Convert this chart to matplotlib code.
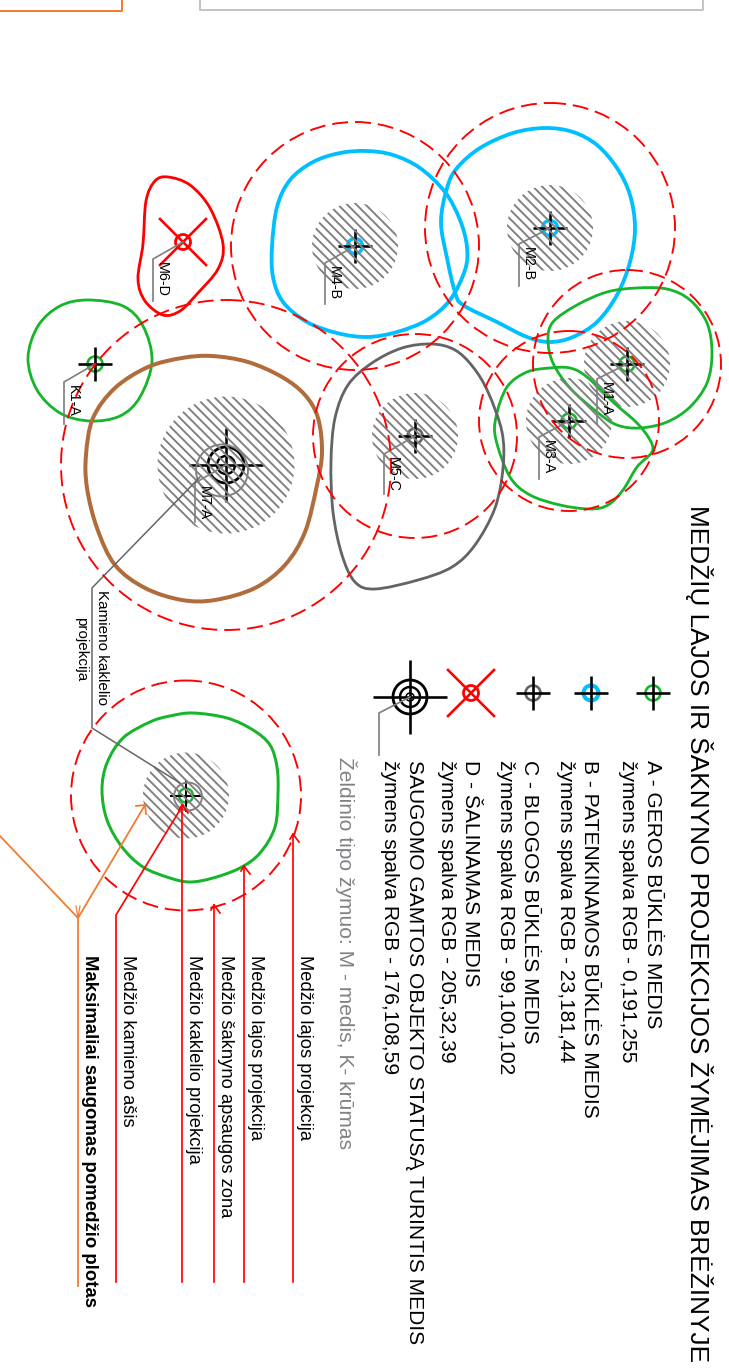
import numpy as np
import matplotlib
matplotlib.use("Agg")
import matplotlib.pyplot as plt
from matplotlib.path import Path
from matplotlib.patches import PathPatch, Circle
from matplotlib.collections import LineCollection

plt.rcParams['font.family'] = ['Liberation Sans', 'DejaVu Sans']
plt.rcParams['lines.scale_dashes'] = False

# ---- crown outlines ----
crown_M6 = [(168,177),(190,185),(210,208),(223,244),(218,269),(197,294),(180,311),(163,315),(145,301),(138,279),(143,244),(146,201),(155,181)]
crown_K1 = [(88,300),(123,306),(143,326),(152,361),(140,397),(120,416),(90,421),(60,413),(37,390),(28,358),(38,326),(60,306)]
crown_M7 = [(212,356),(248,362),(282,377),(305,395),(318,418),(322,452),(317,485),(305,532),(285,565),(255,588),(215,600),(182,600),(145,588),(115,565),(97,528),(87,488),(86,455),(93,418),(115,388),(148,367),(182,358)]
crown_M4 = [(367,151),(340,153),(313,162),(290,180),(277,207),(272,247),(273,277),(283,302),(307,322),(337,333),(367,337),(397,332),(427,320),(450,300),(465,270),(467,247),(460,220),(445,192),(420,168),(393,155)]
crown_M2 = [(545,128),(573,132),(597,145),(617,168),(630,195),(635,228),(630,262),(617,295),(597,322),(573,337),(550,342),(527,337),(497,322),(463,305),(455,292),(447,258),(441,222),(447,188),(457,168),(480,148),(513,133)]
crown_M1 = [(637,288),(667,289),(690,300),(707,323),(712,353),(707,383),(690,407),(667,422),(640,428),(617,425),(597,412),(570,388),(553,363),(548,340),(553,322),(577,305),(607,292)]
crown_M3 = [(550,368),(570,368),(587,377),(613,402),(637,423),(650,440),(652,452),(637,467),(623,490),(608,505),(590,509),(560,505),(530,495),(510,477),(496,440),(496,417),(507,387),(527,372)]
crown_M5 = [(432,344),(455,350),(473,367),(488,392),(502,432),(503,468),(495,508),(475,545),(452,567),(418,580),(375,589),(355,582),(342,555),(333,512),(331,462),(335,418),(348,385),(372,363),(402,348)]
crown_key = [(193,713),(227,718),(253,730),(270,745),(277,767),(278,793),(275,827),(260,853),(240,868),(213,878),(190,882),(170,878),(143,867),(122,847),(107,820),(102,790),(107,763),(123,738),(150,722),(170,716)]

# ---- trees ----
tree_names   = ['K1-A','M1-A','M2-B','M3-A','M4-B','M5-C','M6-D','M7-A']
tree_x       = [95, 627, 550, 569, 355, 415, 183, 226]
tree_y       = [364, 364, 228, 421, 246, 436, 242, 465]
zone_radius  = [0, 94, 125, 90, 124, 102, 0, 165]
stem_radius  = [0, 43, 43, 43, 43, 43, 0, 68.5]
leader_x     = [64, 597, 519, 539, 325, 384, 153, 195]
leader_y     = [382, 379, 244, 437, 263, 454, 259, 483]
leader_end   = [424, 424, 286, 479, 304, 494, 301, 522]

# ---- legend ----
legend_lines = ['A - GEROS BŪKLĖS MEDIS','žymens spalva RGB - 0,191,255','B - PATENKINAMOS BŪKLĖS MEDIS','žymens spalva RGB - 23,181,44',
                'C - BLOGOS BŪKLĖS MEDIS','žymens spalva RGB - 99,100,102','D - ŠALINAMAS MEDIS','žymens spalva RGB - 205,32,39',
                'SAUGOMO GAMTOS OBJEKTO STATUSĄ TURINTIS MEDIS','žymens spalva RGB - 176,108,59']
legend_line_x = [653, 628, 590, 566, 530, 506, 471, 447, 415, 390]
callouts = ['Medžio lajos projekcija','Medžio lajos projekcija','Medžio šaknyno apsaugos zona','Medžio kaklelio projekcija','Medžio kamieno ašis']
callout_text_x = [305, 256, 226, 194, 128]
callout_line_x = [293, 244, 214, 182, 116]
callout_tip_y  = [834, 866, 905, 805, 915]

GREEN, BLUE, GREY, BROWN, RED, ORANGE = '#17B52C', '#00BFFF', '#636466', '#B06C3B', '#FF0000', '#F47B30'
HATCH = '#808080'
px = 0.72  # points per pixel at dpi 100

fig = plt.figure(figsize=(7.29, 13.69), dpi=100)
ax = fig.add_axes([0, 0, 1, 1])
ax.set_xlim(0, 729); ax.set_ylim(1369, 0); ax.axis('off')


def smooth(points, color, w):
    p = np.array(points, float); n = len(p)
    verts = [p[0]]; codes = [Path.MOVETO]
    for i in range(n):
        p0, p1, p2, p3 = p[i-1], p[i], p[(i+1) % n], p[(i+2) % n]
        verts += [p1 + (p2-p0)/6, p2 - (p3-p1)/6, p2]
        codes += [Path.CURVE4]*3
    ax.add_patch(PathPatch(Path(verts, codes), fc='none', ec=color, lw=w*px, zorder=4))


def hatch(cx, cy, r):
    c = Circle((cx, cy), r, transform=ax.transData, fc='none', ec='none')
    ax.add_patch(c)
    step = 9.2
    segs = [[(cx+o-r*1.5, cy-r*1.5), (cx+o+r*1.5, cy+r*1.5)] for o in np.arange(-2*r, 2*r, step)]
    lc = LineCollection(segs, colors=HATCH, linewidths=1.9*px, zorder=7.5)
    ax.add_collection(lc); lc.set_clip_path(c)


def zone(cx, cy, r):
    ax.add_patch(Circle((cx, cy), r, fc='none', ec=RED, lw=1.9*px, ls=(0, (11.5, 5)), zorder=8))


def ring(cx, cy, r, color, w, z=6):
    ax.add_patch(Circle((cx, cy), r, fc='none', ec=color, lw=w*px, zorder=z))


def cross(cx, cy, a=17, w=2.6):
    ax.plot([cx-a, cx+a], [cy, cy], color='black', lw=w*px, zorder=7, solid_capstyle='butt')
    ax.plot([cx, cx], [cy-a, cy+a], color='black', lw=w*px, zorder=7, solid_capstyle='butt')


def removal(cx, cy, a=23, r=7.5):
    ax.plot([cx-a, cx+a], [cy-a, cy+a], color=RED, lw=2.6*px, zorder=7)
    ax.plot([cx-a, cx+a], [cy+a, cy-a], color=RED, lw=2.6*px, zorder=7)
    ring(cx, cy, r, RED, 2.8)


def vtext(x, y, s, size, color='black', **kw):
    ax.text(x, y, s, rotation=270, rotation_mode='anchor', ha='left', va='center', fontsize=size, color=color, zorder=9, **kw)


# crowns
for pts, col, w in [(crown_M6, RED, 2.8), (crown_K1, GREEN, 2.8), (crown_M7, BROWN, 4.0), (crown_M4, BLUE, 3.8),
                    (crown_M2, BLUE, 3.8), (crown_M1, GREEN, 2.8), (crown_M3, GREEN, 2.8), (crown_M5, GREY, 2.8), (crown_key, GREEN, 3.0)]:
    smooth(pts, col, w)

# trees
marker_col = {'K1-A': GREEN, 'M1-A': GREEN, 'M2-B': BLUE, 'M3-A': GREEN, 'M4-B': BLUE, 'M5-C': GREY}
for i, name in enumerate(tree_names):
    x, y = tree_x[i], tree_y[i]
    if zone_radius[i]:
        zone(x, y, zone_radius[i])
    if stem_radius[i]:
        hatch(x, y, stem_radius[i])
    ax.plot([x, leader_x[i], leader_x[i]], [y, leader_y[i], leader_end[i]], color=HATCH, lw=1.7*px, zorder=7.6)
    vtext(leader_x[i]+9, leader_y[i]+3, name, 10.4)
    if name == 'M6-D':
        removal(x, y)
    elif name == 'M7-A':
        cross(x, y, 37)
        ring(x, y, 18, 'black', 2.8, 7); ring(x, y, 9, 'black', 2.4, 7)
        ring(222, 470.5, 26, HATCH, 1.9, 7.6)
    else:
        ring(x, y, 7.5, marker_col[name], 3.4 if name.endswith('B') else 2.6)
        cross(x, y)

# key tree
key_x, key_y = 186, 795.5
zone(key_x, key_y, 115); hatch(key_x, key_y, 43)
ring(key_x+2, key_y+1, 14, HATCH, 1.9, 7.6); ring(key_x, key_y, 7, GREEN, 2.4); cross(key_x, key_y, 16, 2)

# trunk-neck leader
ax.plot([200, 92, 92, 180], [477, 588, 728, 783], color=GREY, lw=1.5*px, zorder=7.6)
vtext(102, 590, 'Kamieno kaklelio', 11.0)
vtext(81, 617, 'projekcija', 11.0)

# callouts
for tx, lx, tip, s in zip(callout_text_x, callout_line_x, callout_tip_y, callouts):
    vtext(tx, 955, s, 13.2)
    if s == 'Medžio kamieno ašis':
        ax.plot([lx, lx, 183], [1282, tip, 805], color=RED, lw=1.7*px, zorder=8.5)
    else:
        ax.plot([lx, lx], [1282, tip], color=RED, lw=1.7*px, zorder=8.5)
        ax.plot([lx-3, lx, lx+6], [tip+5, tip, tip+8], color=RED, lw=1.7*px, zorder=8.5)
vtext(90, 955, 'Maksimaliai saugomas pomedžio plotas', 13.4, fontweight='bold')

# orange callout
ax.plot([78, 78], [1286, 918], color=ORANGE, lw=1.8*px, zorder=8.5)
ax.plot([0, 78, 145], [836, 918, 805], color=ORANGE, lw=1.8*px, zorder=8.5)
ax.plot([136, 145, 146], [806, 805, 814], color=ORANGE, lw=1.8*px, zorder=8.5)
ax.plot([76, 78, 80], [906, 918, 906], color=ORANGE, lw=1.2*px, zorder=8.5)

# legend symbols
for sx, col, w in [(653, GREEN, 2.6), (591, BLUE, 4.0), (533, GREY, 2.6)]:
    ring(sx, 693, 7.5, col, w); cross(sx, 693)
removal(471, 693)
cross(410, 697, 37, 2.6)
ring(410, 697, 17, 'black', 2.8, 7); ring(410, 697, 10, 'black', 2.4, 7); ring(410, 697, 4, 'black', 1.5, 7)
ax.plot([410, 379, 379], [697, 713, 755], color=HATCH, lw=1.7*px, zorder=7.6)

# legend text
vtext(699, 505, 'MEDŽIŲ LAJOS IR ŠAKNYNO PROJEKCIJOS ŽYMĖJIMAS BRĖŽINYJE', 18.9)
for x, s in zip(legend_line_x, legend_lines):
    vtext(x, 760, s, 15.1)
vtext(346, 757, 'Želdinio tipo žymuo: M - medis, K- krūmas', 15.1, color='#808285')

# page frames at the top
ax.plot([0, 122, 122], [11, 11, 0], color=ORANGE, lw=2*px)
ax.plot([200, 200, 703, 703], [0, 10, 10, 0], color='#c4c4c4', lw=2*px)

fig.savefig('out.png', dpi=100)
